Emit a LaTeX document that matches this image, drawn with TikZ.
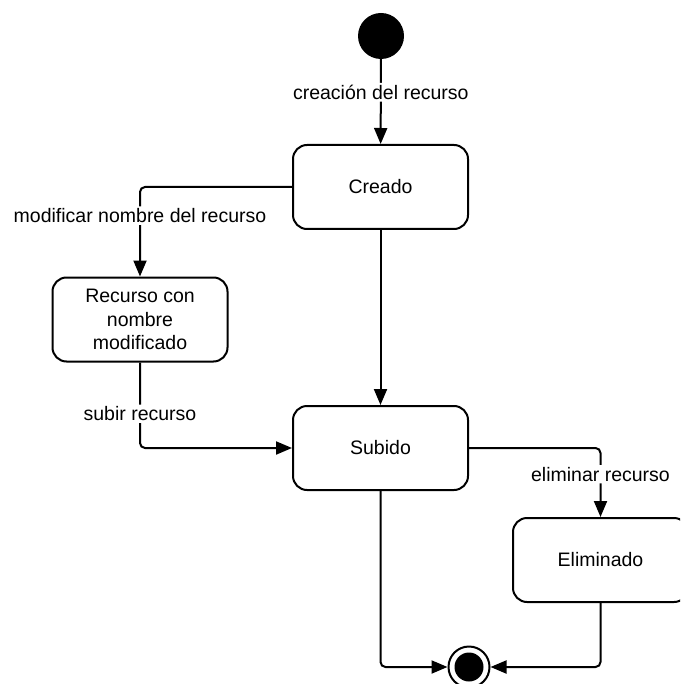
\documentclass[tikz,border=0pt]{standalone}
\usepackage{fontspec}
\setmainfont{Liberation Sans}
\usetikzlibrary{arrows.meta}
\begin{document}
\begin{tikzpicture}[x=1pt,y=-1pt,
  statebox/.style={draw, line width=2pt, rounded corners=14pt, minimum width=175pt, minimum height=84pt, align=center, font=\fontsize{19.5}{23.5}\selectfont, inner sep=2pt},
  conn/.style={line width=2pt, rounded corners=5pt, -{Triangle[length=16pt,width=13pt]}},
  lbl/.style={fill=white, inner sep=2pt, font=\fontsize{19.5}{23}\selectfont}]
\clip (0,0) rectangle (680,684);
\useasboundingbox (0,0) rectangle (680,684);
\node[circle, fill=black, minimum size=46pt, inner sep=0pt] (init) at (381,36) {};
\node[statebox] (creado) at (380.5,187) {Creado};
\node[statebox] (recurso) at (140,319.5) {Recurso con\\nombre\\modificado};
\node[statebox] (subido) at (380.5,448) {Subido};
\node[statebox] (elim) at (600.5,560) {Eliminado};
\node[circle, draw, line width=2pt, minimum size=41pt, inner sep=0pt] (fin) at (469,667) {};
\node[circle, fill=black, minimum size=29pt, inner sep=0pt] (fininner) at (fin.center) {};
\draw[conn] (init) -- node[lbl, pos=0.39]{creación del recurso} (creado);
\draw[conn] (creado.west) -| node[lbl, pos=0.66]{modificar nombre del recurso} (recurso.north);
\draw[conn] (creado.south) -- (subido.north);
\draw[conn] (recurso.south) |- node[lbl, pos=0.3]{subir recurso} (subido.west);
\draw[conn] (subido.east) -| node[lbl, pos=0.69]{eliminar recurso} (elim.north);
\draw[conn] (subido.south) |- (fin.west);
\draw[conn] (elim.south) |- (fin.east);
\end{tikzpicture}
\end{document}
